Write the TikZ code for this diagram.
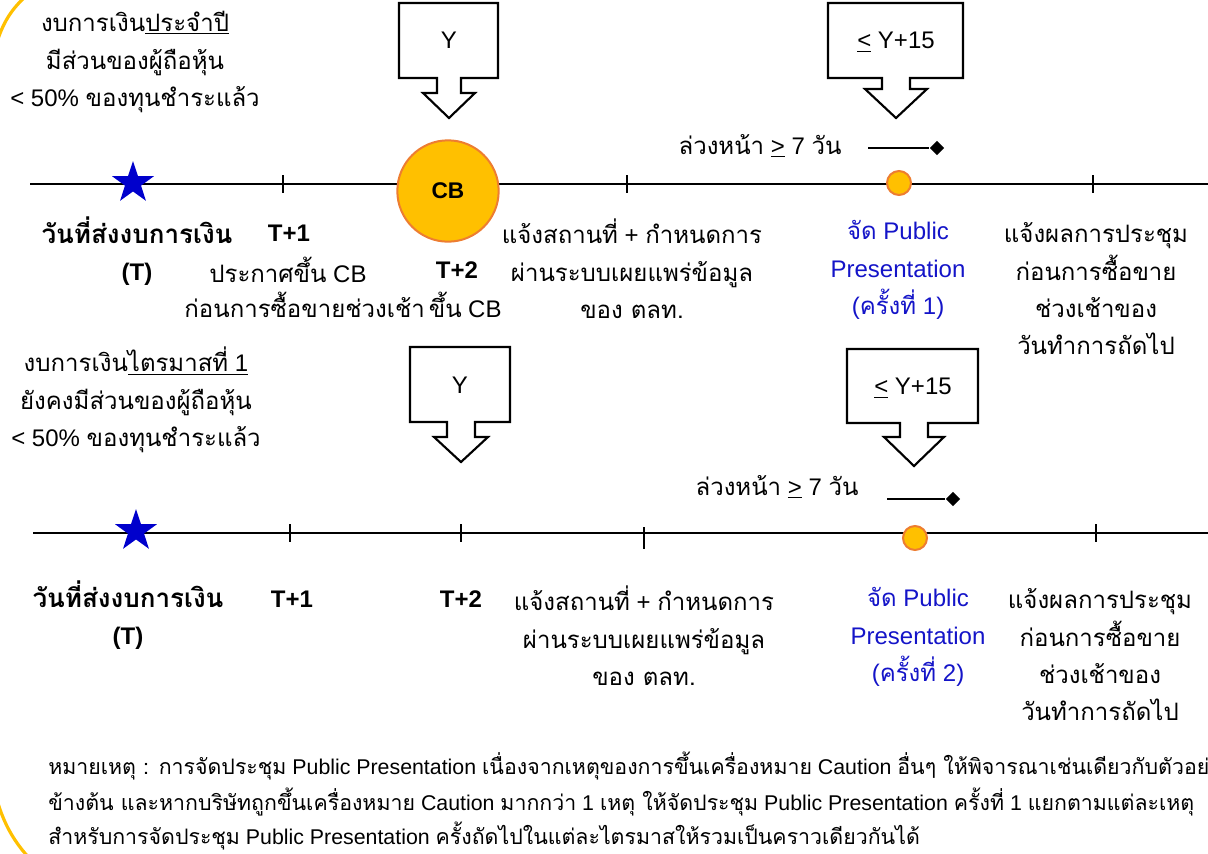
\documentclass[tikz,border=0pt]{standalone}
\usepackage{fontspec}
\setmainfont{Liberation Sans}
\newfontfamily\thaifont[Script=Thai]{Loma}
\newcommand\tx[1]{{\thaifont #1}}
\newcommand\regsz{\fontsize{18}{28}\selectfont}
\usetikzlibrary{shapes.geometric}
\definecolor{cbfill}{HTML}{FFC000}
\definecolor{cbdraw}{HTML}{ED7D31}
\definecolor{starblue}{HTML}{0000CC}
\definecolor{txtblue}{HTML}{1414C8}
\definecolor{framey}{HTML}{FFC000}
\tikzset{
  lbl/.style={inner sep=0pt, align=center, font=\fontsize{18}{28}\selectfont},
  blbl/.style={lbl, font=\fontsize{18}{28}\selectfont\bfseries},
  bthai/.style={lbl, font=\fontsize{19.5}{28}\selectfont\bfseries},
  bluelbl/.style={lbl, text=txtblue},
  foot/.style={inner sep=0pt, anchor=west, font=\fontsize{16}{24}\selectfont},
  tline/.style={line width=1.9pt},
  tick/.style={line width=1.5pt},
  callout/.style={draw, line width=1.6pt, fill=white, line join=miter},
  starmark/.style={star, star points=5, star point ratio=2.6, fill=starblue, draw=none, inner sep=0pt, minimum size=33pt},
  dot/.style={circle, fill=cbfill, draw=cbdraw, line width=1.5pt, inner sep=0pt, minimum size=18pt},
  diam/.style={diamond, fill=black, inner sep=0pt, minimum size=11pt},
}
\begin{document}
\begin{tikzpicture}[x=0.75pt,y=-0.75pt]
\useasboundingbox (0,0) rectangle (1208,854);
\clip (0,0) rectangle (1208,854);
% yellow frame corners
\draw[framey, line width=2.4pt] (26,-4) .. controls (13,8) and (4,20) .. (-3,42);
\draw[framey, line width=2.4pt] (-3,800) .. controls (4,824) and (14,842) .. (31,860);

% ---------- top timeline ----------
\coordinate (a0) at (30,184);
\coordinate (a1) at (1212,184);
\draw[tline] (a0) -- (a1);
\draw[tick] (283,175) -- (283,193);
\draw[tick] (627,175) -- (627,193);
\draw[tick] (1093,175) -- (1093,193);
\node[starmark] (starA) at (133,183) {};
\node[circle, fill=cbfill, draw=cbdraw, line width=1.5pt, minimum size=76pt, inner sep=0pt,
      font=\fontsize{17}{20}\selectfont\bfseries] (cb) at (448,191) {CB};
\node[dot] (dotA) at (899,183) {};

% callouts top
\draw[callout] (399,3) -- (498,3) -- (498,78) -- (461,78) -- (461,93) -- (475,93) -- (449,118)
  -- (423,93) -- (437,93) -- (437,78) -- (399,78) -- cycle;
\node[lbl] (yA) at (449,40) {Y};
\draw[callout] (828,3) -- (963,3) -- (963,78) -- (910,78) -- (910,89) -- (927,89) -- (896,118)
  -- (865,89) -- (882,89) -- (882,78) -- (828,78) -- cycle;
\node[lbl] (y15A) at (896,42) {\underline{<} Y+15};

\node[lbl] (advA) at (760,146) {\tx{ล่วงหน้า} \underline{>} 7 \tx{วัน}};
\coordinate (dA0) at (868,148);
\node[diam] (dA) at (937,148) {};
\draw[line width=0.9pt] (dA0) -- (dA);

% top texts
\node[lbl] (fyA) at (135,62) {\tx{งบการเงิน\underline{ประจำปี}}\\\tx{มีส่วนของผู้ถือหุ้น}\\< 50\% \tx{ของทุนชำระแล้ว}};
\node[bthai] (tA) at (137,251) {\tx{วันที่ส่งงบการเงิน}\\{\regsz (T)}};
\node[blbl] (t1A) at (289,233) {T+1};
\node[lbl] (annA) at (288,270) {\tx{ประกาศขึ้น} CB};
\node[lbl] (ann2A) at (343,305) {\tx{ก่อนการซื้อขายช่วงเช้า}\hspace{3pt}\tx{ขึ้น} CB};
\node[blbl] (t2A) at (457,270) {T+2};
\node[lbl] (venA) at (632,269) {\tx{แจ้งสถานที่} + \tx{กำหนดการ}\\\tx{ผ่านระบบเผยแพร่ข้อมูล}\\\tx{ของ ตลท.}};
\node[bluelbl] (ppA) at (898,270) {\tx{จัด} Public\\Presentation\\(\tx{ครั้งที่} 1)};
\node[lbl] (resA) at (1096,289) {\tx{แจ้งผลการประชุม}\\\tx{ก่อนการซื้อขาย}\\\tx{ช่วงเช้าของ}\\\tx{วันทำการถัดไป}};

% ---------- bottom timeline ----------
\coordinate (b0) at (33,533);
\coordinate (b1) at (1212,533);
\draw[tline] (b0) -- (b1);
\draw[tick] (290,524) -- (290,542);
\draw[tick] (461,524) -- (461,542);
\draw[tick] (644,527) -- (644,549);
\draw[tick] (1096,524) -- (1096,542);
\node[starmark] (starB) at (136,531) {};
\node[dot] (dotB) at (915,538) {};

\draw[callout] (410,347) -- (510,347) -- (510,422) -- (475,422) -- (475,437) -- (488,437) -- (461,462)
  -- (434,437) -- (447,437) -- (447,422) -- (410,422) -- cycle;
\node[lbl] (yB) at (460,385) {Y};
\draw[callout] (847,349) -- (978,349) -- (978,423) -- (928,423) -- (928,437) -- (944,437) -- (914,466)
  -- (884,437) -- (900,437) -- (900,423) -- (847,423) -- cycle;
\node[lbl] (y15B) at (913,388) {\underline{<} Y+15};

\node[lbl] (advB) at (777,487) {\tx{ล่วงหน้า} \underline{>} 7 \tx{วัน}};
\coordinate (dB0) at (887,499);
\node[diam] (dB) at (953,499) {};
\draw[line width=0.9pt] (dB0) -- (dB);

\node[lbl] (fyB) at (136,400) {\tx{งบการเงิน}\underline{\tx{ไตรมาสที่} 1}\\\tx{ยังคงมีส่วนของผู้ถือหุ้น}\\< 50\% \tx{ของทุนชำระแล้ว}};
\node[bthai] (tB) at (128,615) {\tx{วันที่ส่งงบการเงิน}\\{\regsz (T)}};
\node[blbl] (t1B) at (292,599) {T+1};
\node[blbl] (t2B) at (461,599) {T+2};
\node[lbl] (venB) at (644,636) {\tx{แจ้งสถานที่} + \tx{กำหนดการ}\\\tx{ผ่านระบบเผยแพร่ข้อมูล}\\\tx{ของ ตลท.}};
\node[bluelbl] (ppB) at (918,637) {\tx{จัด} Public\\Presentation\\(\tx{ครั้งที่} 2)};
\node[lbl] (resB) at (1100,655) {\tx{แจ้งผลการประชุม}\\\tx{ก่อนการซื้อขาย}\\\tx{ช่วงเช้าของ}\\\tx{วันทำการถัดไป}};

% ---------- footnote ----------
\node[foot] (n1) at (48,766) {\tx{หมายเหตุ : การจัดประชุม} Public Presentation \tx{เนื่องจากเหตุของการขึ้นเครื่องหมาย} Caution \tx{อื่นๆ ให้พิจารณาเช่นเดียวกับตัวอย่าง}};
\node[foot] (n2) at (48,802) {\tx{ข้างต้น และหากบริษัทถูกขึ้นเครื่องหมาย} Caution \tx{มากกว่า} 1 \tx{เหตุ ให้จัดประชุม} Public Presentation \tx{ครั้งที่} 1 \tx{แยกตามแต่ละเหตุ}};
\node[foot] (n3) at (48,836) {\tx{สำหรับการจัดประชุม} Public Presentation \tx{ครั้งถัดไปในแต่ละไตรมาสให้รวมเป็นคราวเดียวกันได้}};
\end{tikzpicture}
\end{document}
